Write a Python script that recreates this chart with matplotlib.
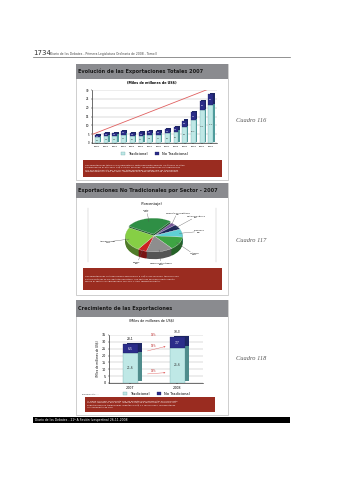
import numpy as np
import matplotlib
matplotlib.use("Agg")
import matplotlib.pyplot as plt
from matplotlib.patches import Rectangle

# Data
years = ["1994", "1995", "1996", "1997", "1998", "1999", "2000",
         "2001", "2002", "2003", "2004", "2005", "2006", "2007"]
trad = [3.2, 4.0, 4.2, 4.7, 3.7, 4.1, 4.8, 4.7, 5.4, 6.4, 9.2, 13.0, 18.5, 21.5]
no_trad = [1.2, 1.4, 1.6, 2.0, 2.0, 1.9, 2.0, 2.2, 2.3, 2.6, 3.5, 4.3, 5.3, 6.3]
trend = [5.0, 32.0]

sectors = ["Textil", "Minería no metálica", "Metal-mecánico", "Pesquero",
           "Químico", "Sidero-metalúrgico", "Varios", "Agropecuario"]
shares = [27, 3, 5, 8, 13, 15, 5, 24]
pie_colors = ["#2f8f45", "#7a5a9e", "#1f2a5a", "#5fcfd3",
              "#3ea443", "#8e8e8e", "#cc2222", "#86cf45"]

grow_years = ["2007", "2008"]
grow_trad = [21.6, 25.6]
grow_no_trad = [6.5, 7.7]
grow_pct = ["19%", "18%", "19%"]

W, H = 339, 480
fig = plt.figure(figsize=(W / 100, H / 100), dpi=100)
page = fig.add_axes([0, 0, 1, 1])
page.set_xlim(0, W)
page.set_ylim(H, 0)
page.axis("off")


def rect(x0, y0, x1, y1):
    return [x0 / W, 1 - y1 / H, (x1 - x0) / W, (y1 - y0) / H]


def box(x0, y0, x1, y1, **kw):
    page.add_patch(Rectangle((x0, y0), x1 - x0, y1 - y0, **kw))


# page header
page.text(33, 56, "1734", fontsize=5, va="bottom", color="#333")
page.text(50, 55.5, "Diario de los Debates - Primera Legislatura Ordinaria de 2008 - Tomo II",
          fontsize=2.2, va="bottom", color="#444")
page.plot([33, 290], [57, 57], color="#666", lw=0.5)

# panels
panels = [(64, 180, 79, "Evolución de las Exportaciones Totales 2007"),
          (183, 295, 198, "Exportaciones No Tradicionales por Sector - 2007"),
          (300, 415, 317, "Crecimiento de las Exportaciones")]
for top, bot, tb, title in panels:
    box(76, top, 228, bot, facecolor="white", edgecolor="#bbbbbb", lw=0.5)
    box(76, top, 228, tb, facecolor="#8a8b8f", edgecolor="none")
    page.text(78, (top + tb) / 2, title, fontsize=3.6, fontweight="bold",
              va="center", color="#1a1a1a")

red_texts = [
    (83, 160, 222, 177,
     "Las exportaciones totales se incrementaron sostenidamente durante los últimos 14 años,\n"
     "alcanzando en el año 2007 US$ 27,9 mil millones; las exportaciones no tradicionales\n"
     "con una participación del 22,7% del total exportado, mientras que las tradicionales\n"
     "representaron el 77,3% del total, sustentado en el alza de precios de los minerales."),
    (83, 268, 222, 290,
     "Las exportaciones no tradicionales ascendieron a US$ 6 313 millones, teniendo una\n"
     "participación de 22,6% del total exportado. Los sectores de mayor participación\n"
     "fueron el Textil y el Agropecuario con 27% y 24% respectivamente."),
    (85, 397, 215, 412,
     "Al cierre del 2008, se proyecta que las exportaciones alcanzarían un crecimiento\n"
     "del 19% respecto al año 2007, llegando a US$ 33,3 mil millones. Asimismo, las\n"
     "exportaciones no tradicionales llegarían a US$ 7,7 mil millones, representando\n"
     "un crecimiento de 18%"),
]
for x0, y0, x1, y1, txt in red_texts:
    box(x0, y0, x1, y1, facecolor="#9a2c20", edgecolor="none")
    page.text(x0 + 2, (y0 + y1) / 2, txt, fontsize=1.65, color="white", va="center",
              linespacing=1.2)

for y, num in [(120, 116), (240, 117), (358, 118)]:
    page.text(236, y, f"Cuadro {num}", fontsize=4.6, style="italic",
              family="Liberation Serif", color="#555", va="center")

# footer
box(33, 417, 290, 423, facecolor="black", edgecolor="none")
page.text(35, 420, "Diario de los Debates - 21ª A Sesión (vespertina) 26-11-2008",
          fontsize=2.2, color="white", va="center")

# ---- chart 1: total exports
page.text(152, 83, "(Miles de millones de US$)", fontsize=2.4, fontweight="bold",
          ha="center", va="center")
ax1 = fig.add_axes(rect(92, 90, 217, 143))
x = np.arange(len(years))
bw = 0.55
tot = np.array(trad) + np.array(no_trad)
ax1.bar(x + 0.16, tot, bw, bottom=0.7, color="#1d2766", zorder=1)
ax1.bar(x + 0.16, trad, bw, bottom=0.7, color="#4f9c9c", zorder=1)
ax1.bar(x, trad, bw, color="#bfe8e6", edgecolor="#5a9a9a", lw=0.2, zorder=2,
        label="Tradicional")
ax1.bar(x, no_trad, bw, bottom=trad, color="#2b2d8a", edgecolor="#1a1a55", lw=0.2,
        zorder=2, label="No Tradicional")
for i in range(len(years)):
    ax1.text(x[i], trad[i] / 2, f"{trad[i]:.1f}".replace(".", ","), fontsize=1.4,
             ha="center", va="center", color="#333", zorder=3)
    ax1.text(x[i], trad[i] + no_trad[i] / 2, f"{no_trad[i]:.1f}".replace(".", ","),
             fontsize=1.4, ha="center", va="center", color="white", zorder=3)
ax1.plot([-0.5, len(years) - 0.5], trend, color="#e06060", lw=0.6, zorder=4)
ax1.set_xlim(-0.6, len(years) - 0.3)
ax1.set_ylim(0, 30)
ax1.set_yticks(range(0, 31, 5))
ax1.set_xticks(x)
ax1.set_xticklabels(years)
ax1.tick_params(labelsize=2.0, length=1, width=0.3, pad=1)
ax1.tick_params(axis="x", labelsize=1.7)
ax1.grid(axis="y", color="#aaaaaa", lw=0.3)
ax1.set_axisbelow(True)
for s in ["top", "right"]:
    ax1.spines[s].set_visible(False)
for s in ["left", "bottom"]:
    ax1.spines[s].set_linewidth(0.4)
ax1.legend(loc="upper center", bbox_to_anchor=(0.5, -0.1), ncol=2, fontsize=2.6,
           frameon=False, handlelength=1.2, handleheight=0.8, columnspacing=2)

# ---- chart 2: pie
page.text(152, 204, "(Porcentaje)", fontsize=2.6, ha="center", va="center")
page.plot([88, 88], [208, 262], color="#bbbbbb", lw=0.3)
page.plot([216, 216], [208, 262], color="#bbbbbb", lw=0.3)
ax2 = fig.add_axes(rect(94, 210, 214, 268))
explode = [0.1, 0, 0, 0, 0, 0, 0, 0]
dark = [tuple(c * 0.6 for c in matplotlib.colors.to_rgb(col)) for col in pie_colors]
for d in np.linspace(0.45, 0.02, 10):
    ax2.pie(shares, colors=dark, startangle=150, counterclock=False,
            explode=explode, center=(0, -d), radius=1,
            wedgeprops=dict(lw=0))
wedges, _ = ax2.pie(shares, colors=pie_colors, startangle=150, counterclock=False,
                    explode=explode, radius=1,
                    wedgeprops=dict(edgecolor="white", lw=0.2))
ax2.set_aspect("auto")
ax2.set_xlim(-2.1, 2.1)
ax2.set_ylim(-2.0, 1.6)
# label placement tweaks (radius factor, vertical shift) per wedge
lab_r = [1.3, 1.25, 1.75, 1.6, 1.6, 1.3, 1.45, 1.65]
lab_dy = [0.25, 0.45, 0.2, 0.0, -0.35, -0.45, -0.35, 0.0]
for w, name, v, r, dy in zip(wedges, sectors, shares, lab_r, lab_dy):
    ang = np.deg2rad((w.theta1 + w.theta2) / 2)
    cx, cy = np.cos(ang), np.sin(ang)
    lx, ly = r * cx, r * cy + dy
    ax2.plot([0.9 * cx, lx * 0.9], [0.9 * cy, ly * 0.9], color="#555", lw=0.25)
    ax2.text(lx, ly, f"{name}\n{v}%", fontsize=1.7, ha="center", va="center",
             linespacing=1.1)
ax2.axis("off")

# ---- chart 3: growth
page.text(152, 320, "(Miles de millones de US$)", fontsize=2.4, ha="center", va="center")
ax3 = fig.add_axes(rect(109, 335, 203, 383))
gx = np.arange(len(grow_years))
gw = 0.32
gtot = np.array(grow_trad) + np.array(grow_no_trad)
ax3.bar(gx + 0.09, gtot, gw, bottom=1.2, color="#1d2766", zorder=1)
ax3.bar(gx + 0.09, grow_trad, gw, bottom=1.2, color="#4f8c8c", zorder=1)
ax3.bar(gx, grow_trad, gw, color="#bfe8e6", edgecolor="#5a9a9a", lw=0.2, zorder=2,
        label="Tradicional")
ax3.bar(gx, grow_no_trad, gw, bottom=grow_trad, color="#2b2d8a", edgecolor="#1a1a55",
        lw=0.2, zorder=2, label="No Tradicional")
for i in gx:
    ax3.text(i, grow_trad[i] / 2, f"{grow_trad[i]:.1f}".replace(".", ","),
             fontsize=2.2, ha="center", va="center", color="#333", zorder=3)
    ax3.text(i, grow_trad[i] + grow_no_trad[i] / 2,
             f"{grow_no_trad[i]:.1f}".replace(".", ","), fontsize=2.2, ha="center",
             va="center", color="white", zorder=3)
    ax3.text(i, gtot[i] + 2.5, f"{gtot[i]:.1f}".replace(".", ","), fontsize=2.2,
             ha="center", va="bottom", zorder=3)
levels = [gtot + 3, np.array(grow_trad) + np.array(grow_no_trad) * 0.2,
          np.array(grow_trad) * 0.3]
for lv, pct in zip(levels, grow_pct):
    ax3.annotate("", xy=(1 - gw / 2 - 0.03, lv[1]), xytext=(gw / 2 + 0.15, lv[0]),
                 arrowprops=dict(arrowstyle="-|>", color="#e06060", lw=0.3,
                                 mutation_scale=2))
    ax3.text(0.5, (lv[0] + lv[1]) / 2 + 1.6, pct, fontsize=1.8, color="#c03030",
             ha="center", va="center")
ax3.set_xlim(-0.45, 1.55)
ax3.set_ylim(0, 35)
ax3.set_yticks(range(0, 36, 5))
ax3.set_xticks(gx)
ax3.set_xticklabels(grow_years)
ax3.tick_params(labelsize=2.4, length=1, width=0.3, pad=1)
ax3.grid(axis="y", color="#aaaaaa", lw=0.3)
ax3.set_axisbelow(True)
for s in ["top", "right"]:
    ax3.spines[s].set_visible(False)
for s in ["left", "bottom"]:
    ax3.spines[s].set_linewidth(0.4)
ax3.set_ylabel("(Miles de millones de US$)", fontsize=2.0, labelpad=1.5)
ax3.legend(loc="upper center", bbox_to_anchor=(0.5, -0.12), ncol=2, fontsize=2.6,
           frameon=False, handlelength=1.2, handleheight=0.8, columnspacing=2)
page.text(82, 394, "Elaboración: ...", fontsize=1.6, color="#333", va="center")

fig.savefig("out.png", dpi=100)
